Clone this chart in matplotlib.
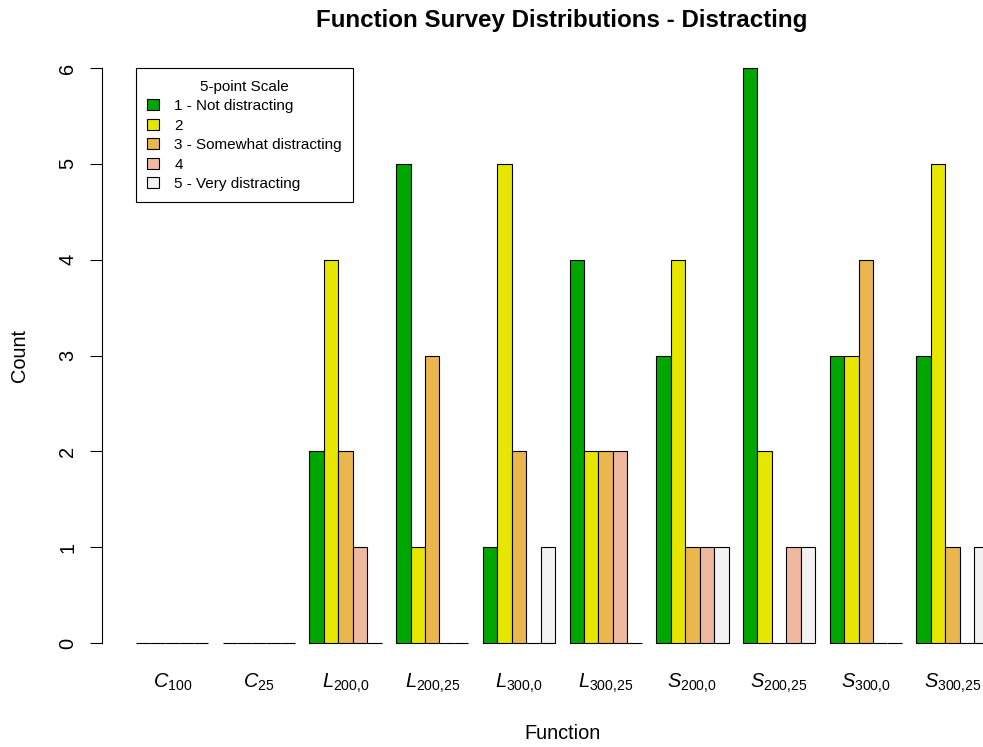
import numpy as np
import matplotlib
matplotlib.use("Agg")
import matplotlib.pyplot as plt
from matplotlib.patches import Patch

plt.rcParams["font.family"] = ["Liberation Sans", "DejaVu Sans"]
plt.rcParams["mathtext.fontset"] = "custom"
plt.rcParams["mathtext.rm"] = "Liberation Sans"
plt.rcParams["mathtext.it"] = "Liberation Sans:italic"

# {,} keeps mathtext from adding a space after the comma
functions = [r"$C_{100}$", r"$C_{25}$", r"$L_{200{,}0}$", r"$L_{200{,}25}$",
             r"$L_{300{,}0}$", r"$L_{300{,}25}$", r"$S_{200{,}0}$", r"$S_{200{,}25}$",
             r"$S_{300{,}0}$", r"$S_{300{,}25}$"]
scale_labels = ["1 - Not distracting", "2", "3 - Somewhat distracting",
                "4", "5 - Very distracting"]
colors = ["#00A600", "#E6E600", "#EAB64E", "#EEB99F", "#F2F2F2"]

not_distracting = [0, 0, 2, 5, 1, 4, 3, 6, 3, 3]
level_2 = [0, 0, 4, 1, 5, 2, 4, 2, 3, 5]
somewhat = [0, 0, 2, 3, 2, 2, 1, 0, 4, 1]
level_4 = [0, 0, 1, 0, 0, 2, 1, 1, 0, 0]
very = [0, 0, 0, 0, 1, 0, 1, 1, 0, 1]
counts = [not_distracting, level_2, somewhat, level_4, very]

fig = plt.figure(figsize=(9.83, 7.47), dpi=100)
ax = fig.add_axes([0.1037, 0.1084, 0.9367, 0.8313])

# grouped bars, one bar-width gap between groups (R barplot beside=TRUE)
n_groups = len(functions)
n_levels = len(counts)
group_start = 1 + (n_levels + 1) * np.arange(n_groups)
for k in range(n_levels):
    ax.bar(group_start + k, counts[k], width=1, align="edge",
           color=colors[k], edgecolor="black", linewidth=0.8)

ax.set_xlim(-1.36, 62.36)
ax.set_ylim(-0.24, 6.24)

for side in ["top", "right", "bottom"]:
    ax.spines[side].set_visible(False)
ax.spines["left"].set_bounds(0, 6)
ax.spines["left"].set_linewidth(0.8)

ax.set_yticks(range(7))
ax.tick_params(axis="y", length=8.6, width=0.8, labelsize=14.4, pad=9)
for lab in ax.get_yticklabels():
    lab.set_rotation(90)
    lab.set_va("center")

ax.set_xticks(group_start + n_levels / 2, functions)
ax.tick_params(axis="x", length=0, labelsize=14.4, pad=4)

ax.set_ylabel("Count", fontsize=14.4)
ax.yaxis.set_label_coords(-0.089, 0.5)
ax.yaxis.label.set_va("center")
ax.set_xlabel("Function", fontsize=14.4)
ax.xaxis.set_label_coords(0.5, -0.108)
ax.xaxis.label.set_va("center")

fig.text(562 / 983, 1 - 20 / 747, "Function Survey Distributions - Distracting",
         ha="center", va="center", fontsize=17.4, fontweight="bold")

handles = [Patch(facecolor=c, edgecolor="black", linewidth=0.8) for c in colors]
leg = ax.legend(handles, scale_labels, title="5-point Scale",
                loc="upper left", bbox_to_anchor=(1, 6),
                bbox_transform=ax.transData, borderaxespad=0,
                fontsize=11, title_fontsize=11, handlelength=0.75,
                handleheight=0.75, handletextpad=1.0, labelspacing=0.36,
                borderpad=0.75, fancybox=False, framealpha=1)
leg.get_frame().set_edgecolor("black")
leg.get_frame().set_linewidth(0.8)

fig.savefig("out.png", dpi=100)
